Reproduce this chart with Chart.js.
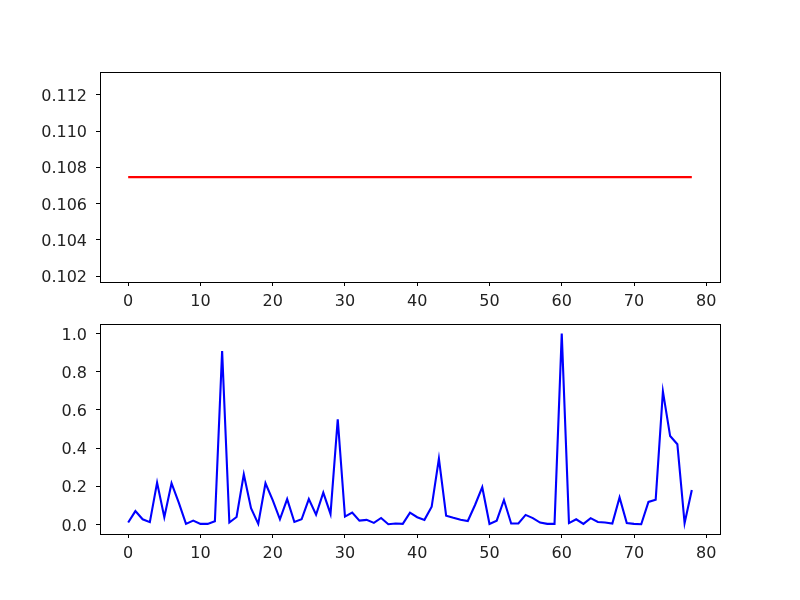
<!DOCTYPE html>
<html>
<head>
<meta charset="utf-8">
<script src="https://cdn.jsdelivr.net/npm/chart.js@4/dist/chart.umd.min.js"></script>
<style>
  body { margin: 0; background: #fff; }
  #wrap { position: relative; width: 800px; height: 600px; }
  .box { position: absolute; left: 0; width: 800px; }
</style>
</head>
<body>
<div id="wrap">
  <div class="box" style="top:0;height:320px"><canvas id="topChart"></canvas></div>
  <div class="box" style="top:300px;height:300px"><canvas id="bottomChart"></canvas></div>
</div>
<script>
// 上圖：常數值
const topValues = [
  0.10746, 0.10746, 0.10746, 0.10746, 0.10746, 0.10746, 0.10746, 0.10746, 0.10746, 0.10746,
  0.10746, 0.10746, 0.10746, 0.10746, 0.10746, 0.10746, 0.10746, 0.10746, 0.10746, 0.10746,
  0.10746, 0.10746, 0.10746, 0.10746, 0.10746, 0.10746, 0.10746, 0.10746, 0.10746, 0.10746,
  0.10746, 0.10746, 0.10746, 0.10746, 0.10746, 0.10746, 0.10746, 0.10746, 0.10746, 0.10746,
  0.10746, 0.10746, 0.10746, 0.10746, 0.10746, 0.10746, 0.10746, 0.10746, 0.10746, 0.10746,
  0.10746, 0.10746, 0.10746, 0.10746, 0.10746, 0.10746, 0.10746, 0.10746, 0.10746, 0.10746,
  0.10746, 0.10746, 0.10746, 0.10746, 0.10746, 0.10746, 0.10746, 0.10746, 0.10746, 0.10746,
  0.10746, 0.10746, 0.10746, 0.10746, 0.10746, 0.10746, 0.10746, 0.10746, 0.10746
];

// 下圖：正規化數值
const bottomValues = [
  0.010, 0.070, 0.027, 0.012, 0.219, 0.038, 0.216, 0.114, 0.003, 0.020,
  0.003, 0.003, 0.017, 0.908, 0.010, 0.039, 0.263, 0.085, 0.003, 0.216,
  0.128, 0.027, 0.133, 0.013, 0.027, 0.133, 0.051, 0.167, 0.055, 0.551,
  0.041, 0.062, 0.020, 0.024, 0.008, 0.034, 0.001, 0.005, 0.003, 0.062,
  0.038, 0.024, 0.093, 0.345, 0.046, 0.035, 0.025, 0.018, 0.102, 0.195,
  0.003, 0.020, 0.128, 0.005, 0.005, 0.050, 0.033, 0.010, 0.003, 0.003,
  1.000, 0.007, 0.027, 0.003, 0.033, 0.013, 0.010, 0.005, 0.142, 0.007,
  0.003, 0.001, 0.118, 0.130, 0.697, 0.463, 0.420, 0.007, 0.180
];

const xTicks = [0, 10, 20, 30, 40, 50, 60, 70, 80];
const topYTicks = [0.102, 0.104, 0.106, 0.108, 0.110, 0.112];
const bottomYTicks = [0.0, 0.2, 0.4, 0.6, 0.8, 1.0];

const font = { family: 'DejaVu Sans', size: 16 };

// 畫四邊框
const frame = {
  id: 'frame',
  afterDraw(chart) {
    const a = chart.chartArea;
    const ctx = chart.ctx;
    ctx.save();
    ctx.strokeStyle = '#000';
    ctx.lineWidth = 1;
    ctx.strokeRect(Math.round(a.left) + 0.5, Math.round(a.top) + 0.5,
      Math.round(a.right - a.left), Math.round(a.bottom - a.top));
    ctx.restore();
  }
};

function toPoints(values) {
  return values.map((v, i) => ({ x: i, y: v }));
}

function makeChart(id, values, color, yMin, yMax, yTicks, yDigits, pad) {
  const ctx = document.getElementById(id).getContext('2d');
  return new Chart(ctx, {
    type: 'line',
    data: {
      datasets: [{
        data: toPoints(values),
        borderColor: color,
        borderWidth: 2.1,
        pointRadius: 0,
        tension: 0,
        fill: false
      }]
    },
    options: {
      responsive: true,
      maintainAspectRatio: false,
      animation: false,
      layout: { padding: { left: 0, right: 80, top: pad.top, bottom: 0 } },
      plugins: { legend: { display: false }, tooltip: { enabled: false } },
      scales: {
        x: {
          type: 'linear',
          min: -3.9,
          max: 81.9,
          afterBuildTicks: s => { s.ticks = xTicks.map(v => ({ value: v })); },
          afterFit: s => { s.height = pad.xHeight; },
          grid: { drawOnChartArea: false, tickLength: 4, tickColor: '#000', tickWidth: 1 },
          border: { color: '#000' },
          ticks: { color: '#222', font, padding: 6, maxRotation: 0, callback: v => String(v) }
        },
        y: {
          min: yMin,
          max: yMax,
          afterBuildTicks: s => { s.ticks = yTicks.map(v => ({ value: v })); },
          afterFit: s => { s.width = 100; },
          grid: { drawOnChartArea: false, tickLength: 4, tickColor: '#000', tickWidth: 1 },
          border: { color: '#000' },
          ticks: { color: '#222', font, padding: 9, labelOffset: 2, callback: v => Number(v).toFixed(yDigits) }
        }
      }
    },
    plugins: [frame]
  });
}

makeChart('topChart', topValues, '#ff0000', 0.10167, 0.11326, topYTicks, 3, { top: 72, xHeight: 38 });
makeChart('bottomChart', bottomValues, '#0000ff', -0.05, 1.05, bottomYTicks, 1, { top: 24, xHeight: 66 });
</script>
</body>
</html>
